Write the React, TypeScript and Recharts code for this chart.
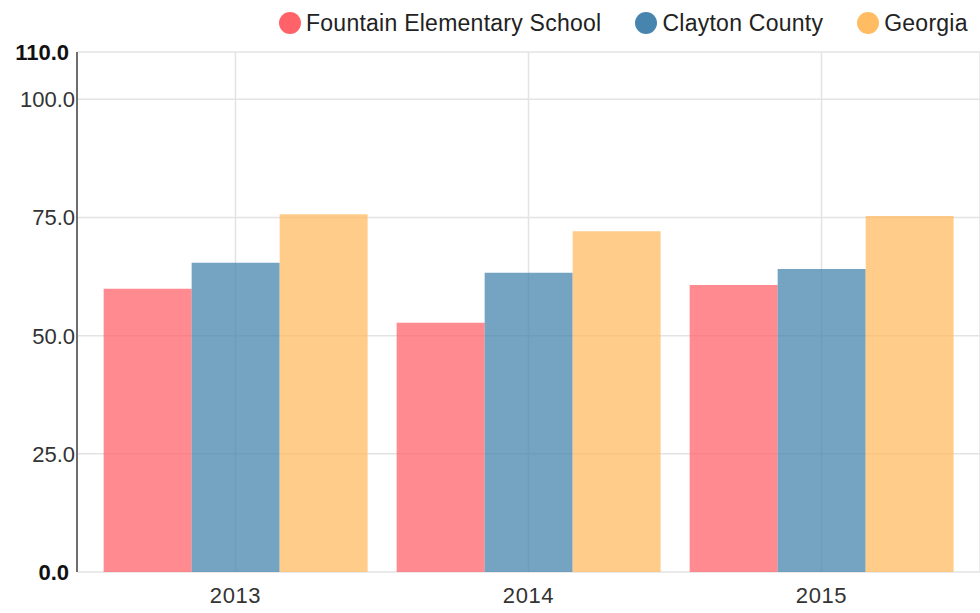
import { BarChart, Bar, XAxis, YAxis, CartesianGrid } from 'recharts';

const years = ['2013', '2014', '2015'];
const fountain = [59.9, 52.7, 60.7];
const clayton = [65.4, 63.3, 64.1];
const georgia = [75.7, 72.1, 75.3];
const yTicks = [0, 25, 50, 75, 100, 110];

const seriesNames = ['Fountain Elementary School', 'Clayton County', 'Georgia'];
const seriesColors = ['#ff6369', '#4785af', '#ffbc62'];

const data = years.map((y, i) => ({
    year: y,
    fountain: fountain[i],
    clayton: clayton[i],
    georgia: georgia[i],
}));

const FONT = '"Liberation Sans", Arial, sans-serif';

// y tick labels: first and last are bold
const YTick = (props: any) => {
    const { x, y, payload } = props;
    const v = payload.value;
    const bold = v === 0 || v === 110;
    return (
        <text
            x={bold ? x : x + 6}
            y={y}
            dy={8}
            textAnchor="end"
            fontSize={22}
            fontFamily={FONT}
            fontWeight={bold ? 'bold' : 'normal'}
            fill={bold ? '#111' : '#333'}
        >
            {v.toFixed(1)}
        </text>
    );
};

const Legend = () => (
    <div
        style={{
            position: 'absolute',
            top: 12,
            left: 279,
            height: 22,
            display: 'flex',
            alignItems: 'center',
            fontFamily: FONT,
            fontSize: 23,
            letterSpacing: 0.25,
            color: '#222',
            whiteSpace: 'nowrap',
        }}
    >
        {seriesNames.map((n, i) => (
            <div key={n} style={{ display: 'flex', alignItems: 'center', marginRight: i < 2 ? 34 : 0 }}>
                <span
                    style={{
                        width: 22,
                        height: 22,
                        borderRadius: '50%',
                        background: seriesColors[i],
                        display: 'inline-block',
                        marginRight: 5,
                    }}
                />
                <span>{n}</span>
            </div>
        ))}
    </div>
);

export default function App() {
    return (
        <div style={{ position: 'absolute', left: 0, top: 0, width: 980, height: 613, background: '#fff' }}>
            <Legend />
            <BarChart
                width={980}
                height={613}
                data={data}
                margin={{ top: 52, right: 0, bottom: 11, left: 0 }}
                barCategoryGap="5%"
                barGap={0}
            >
                <CartesianGrid stroke="#e3e3e3" strokeWidth={1.5} />
                <XAxis
                    dataKey="year"
                    axisLine={false}
                    tickLine={false}
                    padding={{ left: 12, right: 12 }}
                    tick={{ fontSize: 22, fontFamily: FONT, fill: '#333', letterSpacing: 0.6 }}
                    tickMargin={9}
                />
                <YAxis
                    domain={[0, 110]}
                    ticks={yTicks}
                    width={77}
                    interval={0}
                    axisLine={{ stroke: '#444', strokeWidth: 1.5 }}
                    tickLine={false}
                    tick={<YTick />}
                />
                <Bar dataKey="fountain" fill={seriesColors[0]} fillOpacity={0.75} isAnimationActive={false} />
                <Bar dataKey="clayton" fill={seriesColors[1]} fillOpacity={0.75} isAnimationActive={false} />
                <Bar dataKey="georgia" fill={seriesColors[2]} fillOpacity={0.75} isAnimationActive={false} />
            </BarChart>
        </div>
    );
}
